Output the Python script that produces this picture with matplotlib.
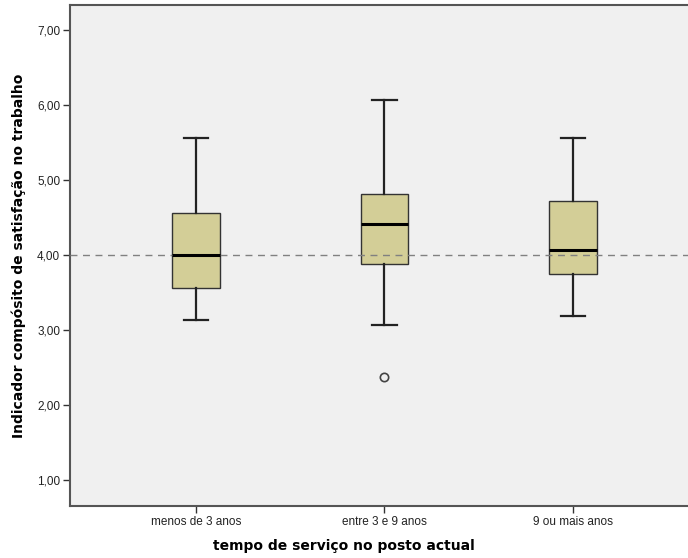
import matplotlib.pyplot as plt

# categories and box statistics
categories = ['menos de 3 anos', 'entre 3 e 9 anos', '9 ou mais anos']
whisker_low = [3.13, 3.06, 3.19]
q1 = [3.56, 3.88, 3.75]
medians = [4.00, 4.41, 4.07]
q3 = [4.56, 4.81, 4.72]
whisker_high = [5.56, 6.06, 5.56]
outliers = [[], [2.37], []]
ref_line = 4.0
yticks = [1, 2, 3, 4, 5, 6, 7]

stats = []
for i in range(len(categories)):
    stats.append({'whislo': whisker_low[i], 'q1': q1[i], 'med': medians[i],
                  'q3': q3[i], 'whishi': whisker_high[i], 'fliers': outliers[i],
                  'label': categories[i]})

fig = plt.figure(figsize=(6.88, 5.58), dpi=100)
fig.patch.set_facecolor('white')
# axes run past the right edge of the figure, as in the original
ax = fig.add_axes([70 / 688, 52 / 558, 629 / 688, 501 / 558])
ax.set_facecolor('#F0F0F0')

ax.bxp(stats, positions=[1, 2, 3], widths=0.25, patch_artist=True,
       boxprops=dict(facecolor='#D3CE97', edgecolor='#333333', lw=1),
       medianprops=dict(color='black', lw=2.2, zorder=4),
       whiskerprops=dict(color='#222222', lw=1.6),
       capprops=dict(color='#222222', lw=1.6),
       capwidths=0.13,
       flierprops=dict(marker='o', markerfacecolor='none', markeredgecolor='#444444',
                       markersize=6, markeredgewidth=1.2),
       zorder=2)

# reference line drawn over the box fill, under the medians
ax.axhline(ref_line, color='#808080', lw=1, ls=(0, (5, 4)), zorder=3)

ax.set_xlim(0.332, 3.668)
ax.set_ylim(0.653, 7.333)
ax.set_xticks([1, 2, 3])
ax.set_xticklabels(categories, family='Liberation Sans', fontsize=8.5, color='#222222')
ax.set_yticks(yticks)
ax.set_yticklabels([('%.2f' % v).replace('.', ',') for v in yticks],
                   family='Liberation Sans', fontsize=8.5, color='#222222')
ax.tick_params(axis='both', length=5, width=1, color='#333333', direction='out', pad=2)

for s in ax.spines.values():
    s.set_color('#555555')
    s.set_linewidth(1.5)

ax.set_ylabel('Indicador compósito de satisfação no trabalho', fontsize=10,
              fontweight='bold', labelpad=8)
ax.set_xlabel('tempo de serviço no posto actual', fontsize=10, fontweight='bold')
# center xlabel on the visible part of the figure
ax.xaxis.set_label_coords((344 - 70) / 629, -0.065)

fig.savefig('out.png', dpi=100)
